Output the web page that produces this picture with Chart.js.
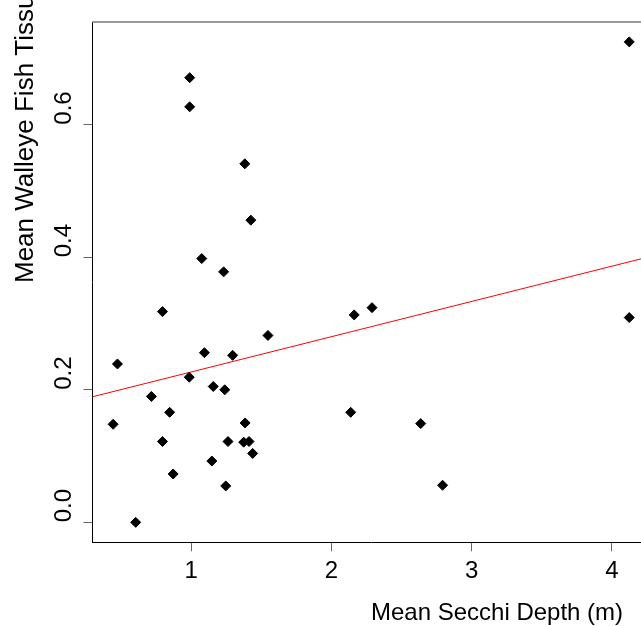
<!DOCTYPE html>
<html>
<head>
<meta charset="utf-8">
<script src="https://cdn.jsdelivr.net/npm/chart.js@4/dist/chart.umd.min.js"></script>
<style>
  html, body { margin: 0; padding: 0; background: #fff; overflow: hidden; }
  #wrap { width: 660px; height: 626px; }
</style>
</head>
<body>
<div id="wrap"><canvas id="chart1" width="660" height="626"></canvas></div>
<script>
// dados
const secchiDepth = [
  0.796, 0.475, 1.095, 1.296, 1.548, 2.163, 2.290, 4.124, 0.987, 1.158,
  1.240, 0.717, 0.847, 0.444, 1.385, 2.138, 2.637, 0.796, 1.263, 1.375,
  1.413, 1.439, 1.148, 0.872, 1.247, 2.793, 0.605, 0.990, 0.990, 1.383,
  1.426, 1.076, 1.232, 4.124,
];
const fishTissue = [
  0.318, 0.239, 0.256, 0.252, 0.282, 0.313, 0.324, 0.309, 0.219, 0.205,
  0.200, 0.190, 0.166, 0.148, 0.150, 0.166, 0.149, 0.122, 0.122, 0.121,
  0.122, 0.104, 0.0925, 0.073, 0.055, 0.056, 0.000, 0.671, 0.627, 0.541,
  0.456, 0.398, 0.378, 0.725,
];
// reta de regressao (extremos)
const fitX = [0.297, 4.272];
const fitY = [0.1895, 0.401];

const xTicks = [1, 2, 3, 4];
const yTicks = [0, 0.2, 0.4, 0.6];
const xLabel = "Mean Secchi Depth (m)";
const yLabel = "Mean Walleye Fish Tissue Hg (ppm)";

const fontFamily = '"Liberation Sans", Arial, sans-serif';
const ctx1 = document.getElementById("chart1");

// borda de cima + titulos dos eixos
const frameAndTitles = {
  id: "frameAndTitles",
  afterDraw(chart) {
    const { ctx, chartArea: a } = chart;
    ctx.save();
    ctx.strokeStyle = "#777";
    ctx.lineWidth = 1.5;
    ctx.beginPath();
    ctx.moveTo(a.left, a.top);
    ctx.lineTo(a.right, a.top);
    ctx.stroke();

    ctx.fillStyle = "#000";
    ctx.textAlign = "left";
    ctx.textBaseline = "alphabetic";
    ctx.font = "24px " + fontFamily;
    ctx.fillText(xLabel, 371, 620);

    ctx.font = "26px " + fontFamily;
    ctx.translate(32.5, 283);
    ctx.rotate(-Math.PI / 2);
    ctx.fillText(yLabel, 0, 0);
    ctx.restore();
  },
};

new Chart(ctx1, {
  type: "scatter",
  data: {
    datasets: [
      {
        label: "Lakes",
        data: secchiDepth.map((x, i) => ({ x: x, y: fishTissue[i] })),
        pointStyle: "rectRot",
        pointRadius: 5,
        backgroundColor: "#000",
        borderColor: "#000",
        borderWidth: 1,
      },
      {
        type: "line",
        label: "Fit",
        data: fitX.map((x, i) => ({ x: x, y: fitY[i] })),
        borderColor: "#ff0000",
        borderWidth: 1,
        pointRadius: 0,
        fill: false,
      },
    ],
  },
  options: {
    responsive: false,
    animation: false,
    layout: {
      padding: { left: 52, top: 22, right: 10, bottom: 0 },
    },
    plugins: {
      legend: { display: false },
      tooltip: { enabled: false },
    },
    scales: {
      x: {
        type: "linear",
        min: 0.297,
        max: 4.272,
        afterBuildTicks: (s) => {
          s.ticks = xTicks.map((v) => ({ value: v }));
        },
        afterFit: (s) => {
          s.height = 83.7;
        },
        border: { display: true, color: "#000", width: 1 },
        grid: { drawOnChartArea: false, tickLength: 9, color: "#666" },
        ticks: {
          color: "#000",
          padding: 6,
          maxRotation: 0,
          font: { size: 24, family: fontFamily },
          callback: (v) => String(v),
        },
      },
      y: {
        type: "linear",
        min: -0.0301,
        max: 0.755,
        afterBuildTicks: (s) => {
          s.ticks = yTicks.map((v) => ({ value: v }));
        },
        afterFit: (s) => {
          s.width = 40.5;
        },
        border: { display: true, color: "#000", width: 1 },
        grid: { drawOnChartArea: false, tickLength: 9, color: "#666" },
        ticks: {
          color: "#000",
          padding: 0,
          minRotation: 90,
          maxRotation: 90,
          crossAlign: "far",
          align: "start",
          font: { size: 24, family: fontFamily },
          callback: (v) => v.toFixed(1),
        },
      },
    },
  },
  plugins: [frameAndTitles],
});
</script>
</body>
</html>
